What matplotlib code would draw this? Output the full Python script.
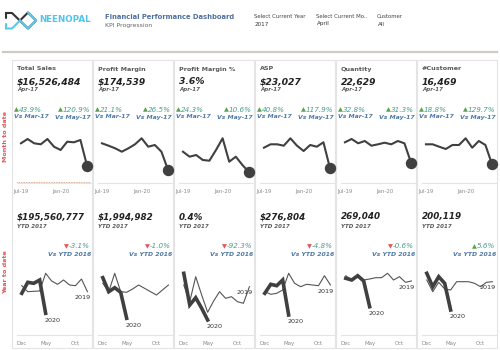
import matplotlib
matplotlib.use("Agg")
import matplotlib.pyplot as plt
from matplotlib.patches import Rectangle

W, H = 500, 350

# ---- data -------------------------------------------------------------
kpi_names = ["Total Sales", "Profit Margin", "Profit Margin %", "ASP", "Quantity", "#Customer"]
mtd_values = ["$16,526,484", "$174,539", "3.6%", "$23,027", "22,629", "16,469"]
mtd_vs_prev = [43.9, 21.1, 24.3, 40.8, 32.8, 18.8]
mtd_vs_next = [120.9, 26.5, 10.6, 117.9, 31.3, 129.7]
ytd_values = ["$195,560,777", "$1,994,982", "0.4%", "$276,804", "269,040", "200,119"]
ytd_change = [-3.1, -1.0, -92.3, -4.8, -0.6, 5.6]

mtd_months = ["Jul-19", "Aug-19", "Sep-19", "Oct-19", "Nov-19", "Dec-19",
              "Jan-20", "Feb-20", "Mar-20", "Apr-20", "May-20"]
mtd_ticks = ["Jul-19", "Jan-20"]
# relative monthly level per KPI (no y axis in the sparklines)
mtd_trend = [
    [39.7, 44.0, 39.7, 38.7, 44.0, 36.3, 33.0, 41.3, 40.7, 43.0, 17.3],
    [39.7, 37.3, 34.7, 31.3, 34.7, 38.7, 44.7, 36.3, 38.0, 31.3, 13.0],
    [31.3, 26.3, 28.0, 23.0, 22.3, 33.0, 44.7, 21.3, 26.3, 18.0, 10.7],
    [35.3, 38.7, 38.7, 37.3, 44.7, 37.3, 32.0, 38.0, 36.3, 40.7, 14.7],
    [40.7, 44.0, 39.7, 42.0, 37.3, 38.7, 40.3, 38.7, 42.0, 39.7, 20.3],
    [38.7, 38.7, 36.3, 34.0, 38.0, 38.0, 44.7, 35.3, 42.0, 38.0, 18.7],
]

ytd_ticks = ["Dec", "May", "Oct"]
ytd_2019 = [
    [49.3, 43.3, 43.7, 44.0, 61.7, 54.0, 50.7, 55.0, 50.0, 49.3, 56.0, 43.3],
    [51.7, 43.3, 61.7, 43.3, 42.7, 46.0, 50.0, 46.7, 43.3, 40.0, 45.0, 50.0],
    [50.0, 33.3, 58.3, 40.0, 22.7, 34.0, 43.3, 36.7, 38.3, 33.3, 31.7, 48.3],
    [43.3, 40.7, 41.7, 45.0, 61.7, 51.7, 48.3, 50.7, 50.0, 49.3, 59.3, 50.0],
    [59.3, 55.0, 58.3, 55.0, 56.0, 57.3, 57.3, 61.7, 55.0, 58.3, 52.7, 54.0],
    [55.0, 43.3, 52.7, 46.0, 45.0, 53.3, 53.3, 53.3, 51.7, 48.3, 52.7, 53.3],
]
ytd_2020 = [
    [41.7, 52.7, 51.7, 55.0, 21.7],
    [57.3, 43.3, 47.3, 42.7, 16.7],
    [61.7, 30.0, 37.3, 26.7, 15.0],
    [41.7, 50.7, 49.3, 55.0, 20.0],
    [56.7, 55.0, 59.3, 54.0, 28.3],
    [61.7, 48.3, 58.3, 51.7, 25.0],
]
show_2019_label = [True, False, True, True, True, True]

# ---- style ------------------------------------------------------------
TEAL = "#4a9e8e"
BLUE = "#4e79a7"
UP = "#59a14f"
DOWN = "#e15759"
LINE = "#404040"
GREY = "#5a5a5a"
BORDER = "#e4e4e4"

fig = plt.figure(figsize=(W / 100, H / 100), dpi=100)
fig.patch.set_facecolor("white")

# background axes in pixel units (y grows downwards)
bg = fig.add_axes([0, 0, 1, 1])
bg.set_xlim(0, W)
bg.set_ylim(H, 0)
bg.axis("off")

# header: logo + titles + filters
bg.plot([6, 6], [13, 17.5], color="#333333", lw=1.5, solid_capstyle="round")
bg.plot([6, 6], [24, 28], color="#5bc8ea", lw=1.5, solid_capstyle="round")
bg.plot([6, 12, 28, 36, 28, 20], [13, 13, 28.5, 20.5, 12.5, 20.5], color="#333333",
        lw=1.5, solid_joinstyle="round")
bg.plot([20, 12, 6], [20.5, 28.5, 28.5], color="#5bc8ea", lw=1.5)
bg.plot([20, 28, 36, 28], [20.5, 28.5, 20.5, 12.5], color="#5bc8ea", lw=1.5,
        solid_joinstyle="miter")
bg.text(39, 20, "NEENOPAL", color="#55c4ea", fontsize=6.3, fontweight="bold",
        va="center", ha="left")
bg.text(105, 17, "Financial Performance Dashboard", color="#4e6f9f", fontsize=4.9,
        fontweight="bold", va="center")
bg.text(105, 26, "KPI Progression", color="#666666", fontsize=4.4, va="center")
for fx, lab, val in [(254, "Select Current Year", "2017"),
                     (316, "Select Current Mo..", "April"),
                     (377, "Customer", "All")]:
    bg.text(fx, 16, lab, color="#444444", fontsize=3.9, va="center")
    bg.text(fx + 1, 24, val, color="#333333", fontsize=4.1, va="center")
bg.plot([3, 497], [52, 52], color="#cfcbc3", lw=1.6)

# row labels
bg.text(6, 137, "Month to date", rotation=90, color="#e0585b", fontsize=4.6,
        fontweight="bold", ha="center", va="center")
bg.text(6, 272, "Year to date", rotation=90, color="#e0585b", fontsize=4.6,
        fontweight="bold", ha="center", va="center")


def pct(v):
    return f"{v:.1f}%"


def delta_right(x, y, v):
    num = bg.text(x, y, pct(v), color=TEAL, fontsize=5.2, style="italic",
                  ha="right", va="center")
    bg.annotate("▲" if v >= 0 else "▼", xy=(0, 0.5), xycoords=num,
                ha="right", va="center", fontsize=4.6,
                color=UP if v >= 0 else DOWN)


def delta_left(x, y, v):
    tri = bg.text(x, y, "▲" if v >= 0 else "▼", color=UP if v >= 0 else DOWN,
                  fontsize=4.6, ha="left", va="center")
    bg.annotate(pct(v), xy=(1, 0.5), xycoords=tri, ha="left", va="center",
                fontsize=5.2, style="italic", color=TEAL)


def style_spark(ax, ticks, positions):
    ax.set_facecolor("none")
    for s in ("top", "left", "right"):
        ax.spines[s].set_visible(False)
    ax.spines["bottom"].set_color(BORDER)
    ax.spines["bottom"].set_linewidth(0.8)
    ax.set_yticks([])
    ax.set_xticks(positions)
    ax.set_xticklabels(ticks)
    ax.tick_params(axis="x", length=0, labelsize=3.9, labelcolor="#8a8a8a", pad=4)


for i, name in enumerate(kpi_names):
    x0 = 13 + 81 * i
    bg.add_patch(Rectangle((x0 - 1, 60), 80, 288, facecolor="white",
                           edgecolor=BORDER, lw=0.8))

    # month to date block
    bg.text(x0 + 4, 69, name, color=GREY, fontsize=4.6, fontweight="bold", va="center")
    bg.text(x0 + 4, 82, mtd_values[i], color="#222222", fontsize=6.7, fontweight="bold",
            style="italic", va="center")
    bg.text(x0 + 4, 90, "Apr-17", color=GREY, fontsize=4.0, fontweight="bold",
            style="italic", va="center")
    delta_left(x0 + 1, 110, mtd_vs_prev[i])
    delta_right(x0 + 77, 110, mtd_vs_next[i])
    bg.text(x0 + 1, 117, "Vs Mar-17", color=BLUE, fontsize=4.4, fontweight="bold",
            style="italic", va="center")
    bg.text(x0 + 78, 117, "Vs May-17", color=BLUE, fontsize=4.4, fontweight="bold",
            style="italic", va="center", ha="right")

    ax = fig.add_axes([(x0 + 4) / W, 1 - 183 / H, 74 / W, 55 / H])
    xs = list(range(len(mtd_months)))
    ax.plot(xs, mtd_trend[i], color=LINE, lw=1.5, solid_joinstyle="round")
    ax.plot(xs[-1], mtd_trend[i][-1], "o", color=LINE, ms=7.2, clip_on=False)
    ax.set_xlim(-0.6, 10.6)
    ax.set_ylim(0, 55)
    if i == 0:
        ax.axhline(0.6, color="#c98a6a", lw=0.6, ls=(0, (1, 1)))
    style_spark(ax, mtd_ticks, [mtd_months.index(t) for t in mtd_ticks])

    # year to date block
    bg.text(x0 + 4, 217, ytd_values[i], color="#222222", fontsize=6.3, fontweight="bold",
            style="italic", va="center")
    bg.text(x0 + 4, 227, "YTD 2017", color=GREY, fontsize=4.0, fontweight="bold",
            style="italic", va="center")
    delta_right(x0 + 77, 246.5, ytd_change[i])
    bg.text(x0 + 78, 255, "Vs YTD 2016", color=BLUE, fontsize=4.4, fontweight="bold",
            style="italic", va="center", ha="right")

    ax = fig.add_axes([(x0 + 4) / W, 1 - 335 / H, 74 / W, 95 / H])
    xs = list(range(len(ytd_2019[i])))
    ax.plot(xs, ytd_2019[i], color="#555555", lw=0.8)
    xs20 = xs[:len(ytd_2020[i])]
    ax.plot(xs20, ytd_2020[i], color=LINE, lw=2.6, solid_joinstyle="miter")
    ax.set_xlim(-0.8, 11.6)
    ax.set_ylim(0, 95)
    if show_2019_label[i]:
        ax.annotate("2019", xy=(xs[-1], ytd_2019[i][-1]), xytext=(-3.1, -4.4),
                    textcoords="offset points", ha="center", va="center",
                    fontsize=4.6, color="#333333")
    ax.annotate("2020", xy=(xs20[-1], ytd_2020[i][-1]), xytext=(5.0, -4.9),
                textcoords="offset points", ha="center", va="center",
                fontsize=4.6, color="#333333")
    style_spark(ax, ytd_ticks, [0, 4, 9])

fig.savefig("out.png", dpi=100, facecolor="white")
